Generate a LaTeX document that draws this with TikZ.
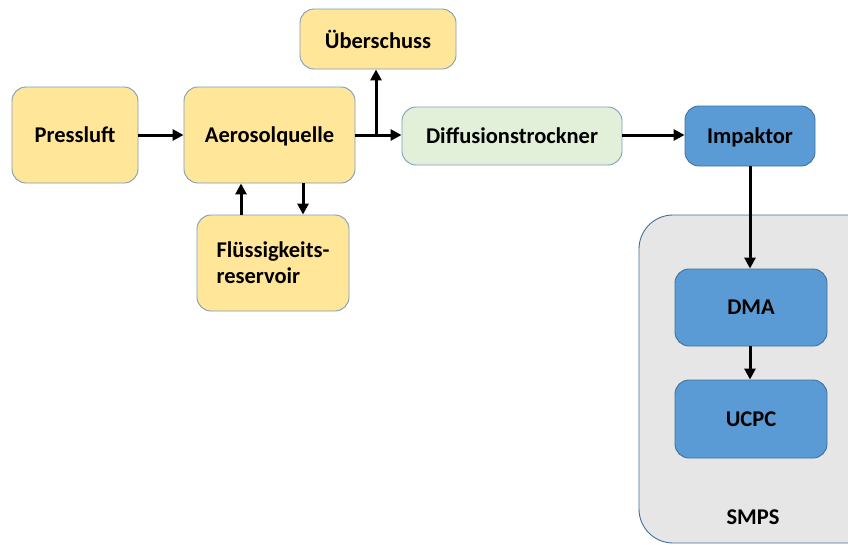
\documentclass[tikz,border=0pt]{standalone}
\usepackage{fontspec}
\setmainfont{Carlito}
\usetikzlibrary{arrows.meta}
\definecolor{yfill}{HTML}{FFE699}
\definecolor{gfill}{HTML}{E2F0D9}
\definecolor{bfill}{HTML}{5B9BD5}
\definecolor{sfill}{HTML}{E7E6E6}
\definecolor{bord}{HTML}{7F9DB9}
\definecolor{bordb}{HTML}{41719C}
\begin{document}
\begin{tikzpicture}[x=1pt,y=-1pt,
  lbl/.style={font=\fontsize{22.5}{26}\selectfont\bfseries},
  box/.style={lbl,draw=bord,line width=0.9pt,rounded corners=14pt,align=center,text depth=0pt},
  ybox/.style={box,fill=yfill},
  gbox/.style={box,fill=gfill},
  bbox/.style={box,fill=bfill,draw=bordb},
  arr/.style={line width=3pt,-{Triangle[length=11pt,width=11pt]}}]
\useasboundingbox (0,0) rectangle (848,544);
\fill[white] (0,0) rectangle (848,544);
\draw[fill=sfill,draw=bordb,line width=0.9pt,rounded corners=34pt] (639,215) rectangle (900,543);
\node[lbl] (smps) at (753,517) {SMPS};
\node[ybox,minimum width=126pt,minimum height=96pt] (press) at (75,135) {Pressluft};
\node[ybox,minimum width=171pt,minimum height=96pt] (aero) at (269.5,135) {Aerosolquelle};
\node[ybox,minimum width=156pt,minimum height=60pt] (ueb) at (378,39) {Überschuss};
\node[ybox,minimum width=152pt,minimum height=96pt,align=left] (res) at (273,263) {Flüssigkeits-\\reservoir};
\node[gbox,minimum width=220pt,minimum height=58pt] (diff) at (512,136) {Diffusionstrockner};
\node[bbox,minimum width=130pt,minimum height=60pt] (imp) at (750,136) {Impaktor};
\node[bbox,minimum width=152pt,minimum height=77pt] (dma) at (751,307.5) {DMA};
\node[bbox,minimum width=152pt,minimum height=78pt] (ucpc) at (751,419) {UCPC};
\coordinate (br) at (376,135);
\draw[arr] (press.east |- 0,135) -- (aero.west |- 0,135);
\draw[arr] (aero.east |- 0,135) -- (diff.west |- 0,135);
\draw[arr] (br) -- (br |- ueb.south);
\draw[arr] (aero.south -| 303,0) -- (res.north -| 303,0);
\draw[arr] (res.north -| 241,0) -- (aero.south -| 241,0);
\draw[arr] (diff.east |- 0,135) -- (imp.west |- 0,135);
\draw[arr] (imp.south -| 750,0) -- (dma.north -| 750,0);
\draw[arr] (dma.south -| 750,0) -- (ucpc.north -| 750,0);
\end{tikzpicture}
\end{document}
